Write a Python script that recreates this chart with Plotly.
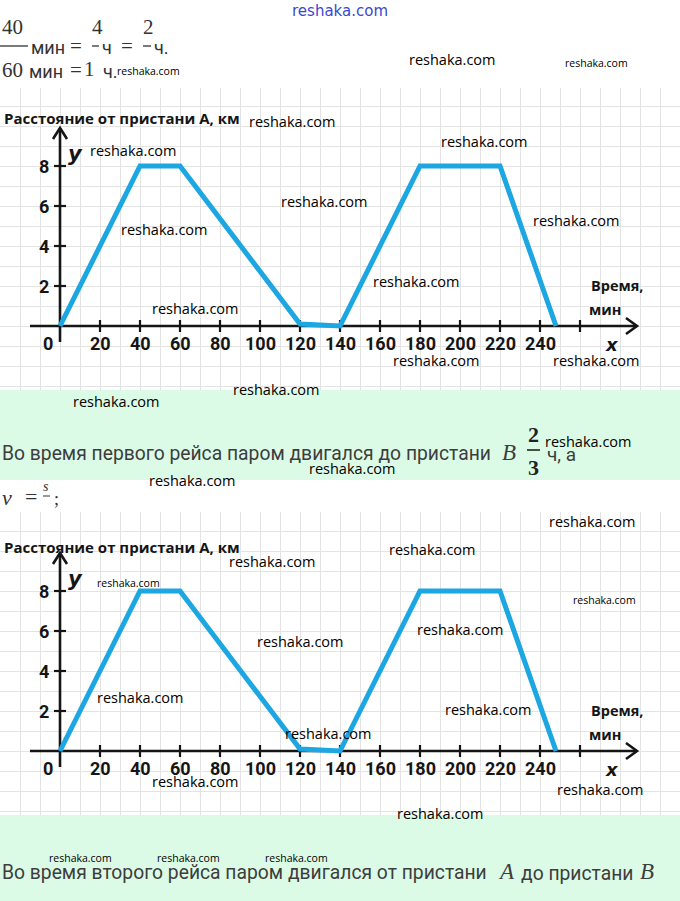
import plotly.graph_objects as go

# ---------------- data ----------------
time_min = [0, 40, 60, 120, 140, 180, 220, 248]
dist_km = [0, 8, 8, 0.1, 0, 8, 8, 0]
x_ticks = [20, 40, 60, 80, 100, 120, 140, 160, 180, 200, 220, 240, 260]
x_tick_labels = ["20", "40", "60", "80", "100", "120", "140", "160", "180", "200", "220", "240", ""]
y_ticks = [2, 4, 6, 8]
y_tick_labels = ["2", "4", "6", "8"]
y_title = "Расстояние от пристани А, км"
x_title = ["Время,", "мин"]

W, H = 680, 901
BLUE = "#1ca6e2"
GRID = "#e3e3e3"
GREEN = "#dcfbe7"
INK = "#151515"
TXT = "#3d3d3d"

def P(x, y):
    return x / W, 1 - y / H

fig = go.Figure()
annotations = []
shapes = []

def ann(x, y, text, size=15, family="Open Sans", color="#000", xanchor="center",
        xref="paper", yref="paper", bold=False, italic=False):
    if xref == "paper":
        x, y = P(x, y)
    annotations.append(dict(
        x=x, y=y, xref=xref, yref=yref, text=text, showarrow=False,
        xanchor=xanchor, yanchor="middle",
        font=dict(size=size, family=family, color=color,
                  weight="bold" if bold else "normal",
                  style="italic" if italic else "normal")))

charts = [
    dict(top=88, bottom=390, zero=326, xa="x", ya="y", title_px=118),
    dict(top=512, bottom=815, zero=751, xa="x2", ya="y2", title_px=547),
]

layout_axes = {}
for i, c in enumerate(charts):
    sfx = "" if i == 0 else "2"
    ymin = (c["zero"] - c["bottom"]) / 20.0
    ymax = (c["zero"] - c["top"]) / 20.0
    layout_axes["xaxis" + sfx] = dict(
        domain=[0, 1], range=[-30, 310], anchor="y" + sfx, showgrid=True,
        gridcolor=GRID, gridwidth=1, dtick=10, tick0=0, showticklabels=False,
        zeroline=False, showline=False, ticks="", fixedrange=True)
    layout_axes["yaxis" + sfx] = dict(
        domain=[1 - c["bottom"] / H, 1 - c["top"] / H], range=[ymin, ymax],
        anchor="x" + sfx, showgrid=True, gridcolor=GRID, gridwidth=1, dtick=1,
        tick0=0, showticklabels=False, zeroline=False, showline=False, ticks="",
        fixedrange=True)

    xa, ya = c["xa"], c["ya"]
    ax_style = dict(color=INK, width=2.6)
    fig.add_trace(go.Scatter(x=[-15, 288.5], y=[0, 0], mode="lines", line=ax_style,
                             xaxis=xa, yaxis=ya, hoverinfo="skip", showlegend=False))
    fig.add_trace(go.Scatter(x=[283, 288.5, 283], y=[0.4, 0, -0.4], mode="lines", line=ax_style,
                             xaxis=xa, yaxis=ya, hoverinfo="skip", showlegend=False))
    fig.add_trace(go.Scatter(x=[0, 0], y=[-0.8, 9.9], mode="lines", line=ax_style,
                             xaxis=xa, yaxis=ya, hoverinfo="skip", showlegend=False))
    fig.add_trace(go.Scatter(x=[-3.5, 0, 3.5], y=[9.35, 9.9, 9.35], mode="lines", line=ax_style,
                             xaxis=xa, yaxis=ya, hoverinfo="skip", showlegend=False))
    tx, ty = [], []
    for t in x_ticks:
        tx += [t, t, None]
        ty += [-0.3, 0.3, None]
    for t in y_ticks:
        tx += [-3, 3, None]
        ty += [t, t, None]
    fig.add_trace(go.Scatter(x=tx, y=ty, mode="lines", line=dict(color=INK, width=2.2),
                             xaxis=xa, yaxis=ya, hoverinfo="skip", showlegend=False))
    fig.add_trace(go.Scatter(x=time_min, y=dist_km, mode="lines",
                             line=dict(color=BLUE, width=5), xaxis=xa, yaxis=ya,
                             hoverinfo="skip", showlegend=False))
    for t, lab in zip(x_ticks, x_tick_labels):
        if lab:
            ann(t, -0.85, lab, size=18, family="Roboto", color=INK, xref=xa, yref=ya, bold=True)
    ann(-6, -0.85, "0", size=18, family="Roboto", color=INK, xref=xa, yref=ya, bold=True)
    for t, lab in zip(y_ticks, y_tick_labels):
        ann(-8, t, lab, size=18, family="Roboto", color=INK, xref=xa, yref=ya, bold=True)
    ann(-29, (c["zero"] - c["title_px"]) / 20.0, y_title,
        size=15, family="Open Sans", color=INK, xanchor="left", xref=xa, yref=ya, bold=True)
    ann(7.5, 8.6, "y", size=21, family="DejaVu Sans", color=INK, xref=xa, yref=ya, bold=True, italic=True)
    ann(276, -0.9, "x", size=18, family="DejaVu Sans", color=INK, xref=xa, yref=ya, bold=True, italic=True)
    ann(278.5, 2.05, x_title[0], size=14.5, family="Open Sans", color=INK, xref=xa, yref=ya, bold=True)
    ann(272.5, 0.85, x_title[1], size=14.5, family="Open Sans", color=INK, xref=xa, yref=ya, bold=True)

for (t, b) in [(390, 480), (815, 901)]:
    shapes.append(dict(type="rect", xref="paper", yref="paper", x0=0, x1=1,
                       y0=1 - b / H, y1=1 - t / H,
                       fillcolor=GREEN, line=dict(width=0), layer="above"))

def bar(x0, x1, y, w=1.3, color="#333"):
    a0, b0 = P(x0, y)
    a1, _ = P(x1, y)
    shapes.append(dict(type="line", xref="paper", yref="paper", x0=a0, x1=a1, y0=b0, y1=b0,
                       line=dict(color=color, width=w), layer="above"))

SERIF = "Liberation Serif"
ann(0, 27, "40", size=21, family=SERIF, color="#333", xanchor="left")
bar(0, 28, 46)
ann(29, 47, "мин", size=18, family="Roboto", color="#333", xanchor="left")
ann(76, 46, "=", size=21, family=SERIF, color="#333")
ann(97, 27, "4", size=21, family=SERIF, color="#333")
bar(92, 99, 46)
ann(100, 47, "ч", size=18, family="Roboto", color="#333", xanchor="left")
ann(127, 46, "=", size=21, family=SERIF, color="#333")
ann(148, 27, "2", size=21, family=SERIF, color="#333")
bar(143, 151, 46)
ann(152, 47, "ч.", size=18, family="Roboto", color="#333", xanchor="left")
ann(0, 70, "60", size=21, family=SERIF, color="#333", xanchor="left")
ann(27, 71, "мин", size=18, family="Roboto", color="#333", xanchor="left")
ann(76, 70, "=", size=21, family=SERIF, color="#333")
ann(89, 69, "1", size=21, family=SERIF, color="#333")
ann(101, 71, "ч.", size=18, family="Roboto", color="#333", xanchor="left")

ann(0, 453, "Во время первого рейса паром двигался до пристани", size=19.3, family="Roboto",
    color=TXT, xanchor="left")
ann(500, 452, "B", size=23, family=SERIF, color=TXT, italic=True, xanchor="left")
ann(533, 434, "2", size=22, family=SERIF, color="#222", bold=True)
bar(527, 540, 450, w=1.6, color="#222")
ann(533, 467, "3", size=22, family=SERIF, color="#222", bold=True)
ann(545, 454, "ч, а", size=19, family="Roboto", color=TXT, xanchor="left")

ann(0, 497, "v", size=22, family=SERIF, color="#333", italic=True, xanchor="left")
ann(31, 496, "=", size=22, family=SERIF, color="#333")
ann(46, 486, "s", size=14, family=SERIF, color="#333", italic=True)
bar(43, 50, 496, w=1.0)
ann(52, 499, ";", size=18, family=SERIF, color="#333", xanchor="left")

ann(0, 872, "Во время второго рейса паром двигался от пристани", size=19.3, family="Roboto",
    color=TXT, xanchor="left")
ann(496, 871, "A", size=23, family=SERIF, color=TXT, italic=True, xanchor="left")
ann(519, 873, "до пристани", size=19.3, family="Roboto", color=TXT, xanchor="left")
ann(638, 871, "B", size=23, family=SERIF, color=TXT, italic=True, xanchor="left")

wm_big = [(452, 60), (292, 121), (133, 150), (484, 141), (324, 201), (164, 229), (576, 221),
          (416, 281), (196, 309), (436, 361), (596, 361), (276, 389), (116, 401), (588, 441),
          (352, 468), (192, 481), (592, 521), (432, 549), (272, 561), (300, 641), (460, 629),
          (140, 697), (488, 709), (328, 733), (196, 781), (600, 789), (440, 813)]
wm_small = [(596, 63), (148, 71), (128, 583), (604, 600), (80, 858), (188, 858), (296, 858)]
for (x, y) in wm_big:
    ann(x, y, "reshaka.com", size=14.5, family="Open Sans", color="#000")
for (x, y) in wm_small:
    ann(x, y, "reshaka.com", size=10.5, family="Open Sans", color="#000")
ann(340, 11, "reshaka.com", size=15, family="DejaVu Sans", color="#3a48d0")

fig.update_layout(
    width=W, height=H, margin=dict(l=0, r=0, t=0, b=0),
    paper_bgcolor="white", plot_bgcolor="rgba(0,0,0,0)",
    showlegend=False, annotations=annotations, shapes=shapes, **layout_axes)

fig.write_html("out.html", config={"displayModeBar": False},
               post_script="document.body.style.margin='0';document.body.style.overflow='hidden';")
